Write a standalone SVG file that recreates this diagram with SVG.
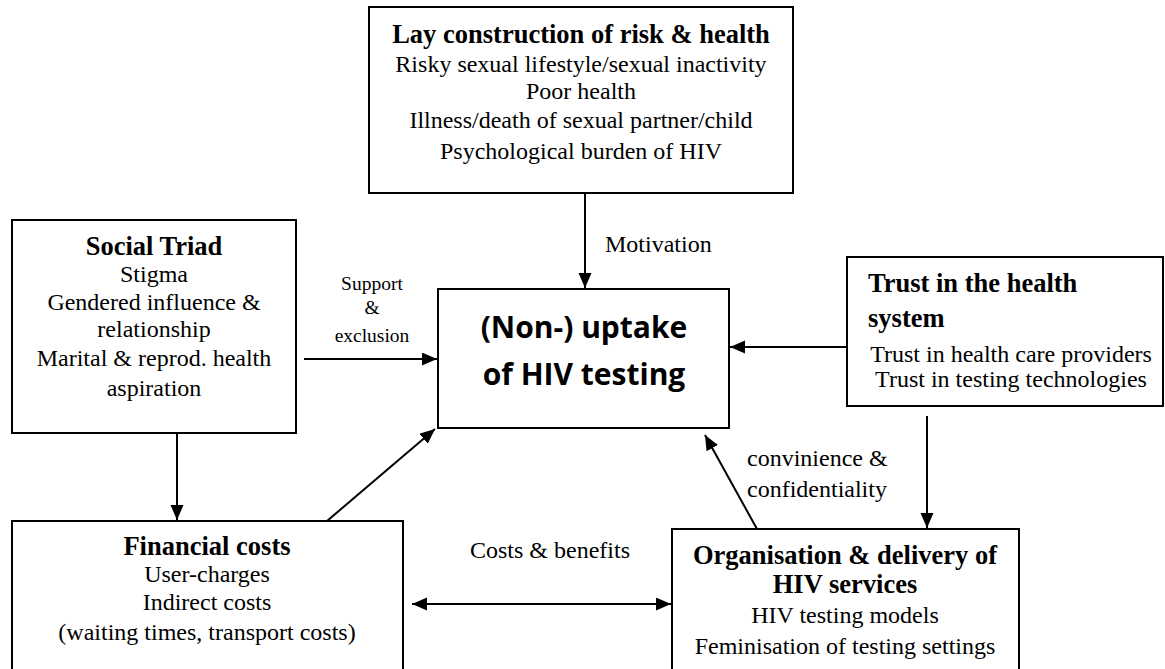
<svg xmlns="http://www.w3.org/2000/svg" width="1165" height="669" viewBox="0 0 1165 669">
  <style>
    .box { fill: #ffffff; stroke: #000000; stroke-width: 2; }
    .title { font-family: "Liberation Serif", "Times New Roman", serif; font-weight: bold; font-size: 26.5px; fill: #000; }
    .body { font-family: "Liberation Serif", "Times New Roman", serif; font-size: 24px; fill: #000; }
    .small { font-family: "Liberation Serif", "Times New Roman", serif; font-size: 19.5px; fill: #000; }
    .center { font-family: "Open Sans", "Liberation Sans", sans-serif; font-weight: bold; font-size: 30px; fill: #000; }
    .mid { text-anchor: middle; }
    .edge { stroke: #000000; stroke-width: 2; fill: none; }
  </style>
  <defs>
    <marker id="arrow" markerUnits="userSpaceOnUse" markerWidth="16" markerHeight="14" refX="15" refY="6.5" orient="auto-start-reverse">
      <path d="M0,0 L15,6.5 L0,13 z" fill="#000"/>
    </marker>
  </defs>

  <rect x="0" y="0" width="1165" height="669" fill="#ffffff"/>

  <!-- Lay construction of risk & health -->
  <g id="lay-construction">
    <rect class="box" x="369" y="7" width="424" height="186"/>
    <text class="title mid" x="581" y="43">Lay construction of risk &amp; health</text>
    <text class="body mid" x="581" y="72">Risky sexual lifestyle/sexual inactivity</text>
    <text class="body mid" x="581" y="99">Poor health</text>
    <text class="body mid" x="581" y="128">Illness/death of sexual partner/child</text>
    <text class="body mid" x="581" y="159">Psychological burden of HIV</text>
  </g>

  <!-- Social Triad -->
  <g id="social-triad">
    <rect class="box" x="12" y="220" width="284" height="213"/>
    <text class="title mid" x="154" y="255">Social Triad</text>
    <text class="body mid" x="154" y="282">Stigma</text>
    <text class="body mid" x="154" y="310">Gendered influence &amp;</text>
    <text class="body mid" x="154" y="337">relationship</text>
    <text class="body mid" x="154" y="366">Marital &amp; reprod. health</text>
    <text class="body mid" x="154" y="396">aspiration</text>
  </g>

  <!-- (Non-) uptake of HIV testing -->
  <g id="uptake">
    <rect class="box" x="438" y="289" width="291" height="139"/>
    <text class="center mid" x="584" y="338">(Non-) uptake</text>
    <text class="center mid" x="584" y="385">of HIV testing</text>
  </g>

  <!-- Trust in the health system -->
  <g id="trust">
    <rect class="box" x="847" y="257" width="316" height="149"/>
    <text class="title" x="868" y="292">Trust in the health</text>
    <text class="title" x="868" y="327">system</text>
    <text class="body mid" x="1011" y="362">Trust in health care providers</text>
    <text class="body mid" x="1011" y="387">Trust in testing technologies</text>
  </g>

  <!-- Financial costs -->
  <g id="financial">
    <rect class="box" x="12" y="521" width="391" height="170"/>
    <text class="title mid" x="207" y="555">Financial costs</text>
    <text class="body mid" x="207" y="582">User-charges</text>
    <text class="body mid" x="207" y="610">Indirect costs</text>
    <text class="body mid" x="207" y="640">(waiting times, transport costs)</text>
  </g>

  <!-- Organisation & delivery of HIV services -->
  <g id="organisation">
    <rect class="box" x="672" y="529" width="347" height="162"/>
    <text class="title mid" x="845" y="564">Organisation &amp; delivery of</text>
    <text class="title mid" x="845" y="593">HIV services</text>
    <text class="body mid" x="845" y="623">HIV testing models</text>
    <text class="body mid" x="845" y="654">Feminisation of testing settings</text>
  </g>

  <!-- Connectors and their labels -->
  <g id="connectors">
    <line class="edge" x1="585" y1="193" x2="585" y2="288" marker-end="url(#arrow)"/>
    <line class="edge" x1="304" y1="359" x2="437" y2="359" marker-end="url(#arrow)"/>
    <line class="edge" x1="847" y1="347" x2="730" y2="347" marker-end="url(#arrow)"/>
    <line class="edge" x1="177" y1="433" x2="177" y2="520" marker-end="url(#arrow)"/>
    <line class="edge" x1="327" y1="521" x2="435" y2="429" marker-end="url(#arrow)"/>
    <line class="edge" x1="757" y1="529" x2="705" y2="435" marker-end="url(#arrow)"/>
    <line class="edge" x1="927" y1="416" x2="927" y2="528" marker-end="url(#arrow)"/>
    <line class="edge" x1="412" y1="604" x2="671" y2="604" marker-start="url(#arrow)" marker-end="url(#arrow)"/>

    <text class="body" x="605" y="252">Motivation</text>
    <text class="small mid" x="372" y="290">Support</text>
    <text class="small mid" x="372" y="314">&amp;</text>
    <text class="small mid" x="372" y="342">exclusion</text>
    <text class="body mid" x="550" y="558">Costs &amp; benefits</text>
    <text class="body" x="747" y="466">convinience &amp;</text>
    <text class="body" x="747" y="497">confidentiality</text>
  </g>
</svg>
